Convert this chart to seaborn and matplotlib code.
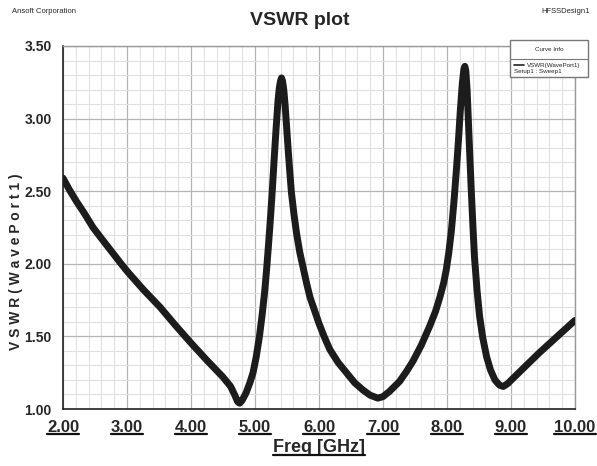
import pandas as pd
import matplotlib.pyplot as plt
import seaborn as sns
from matplotlib.ticker import MultipleLocator
from matplotlib.patches import Rectangle
from matplotlib.lines import Line2D

# values
freq = [2.00, 2.10, 2.21, 2.33, 2.47, 2.60, 2.75, 2.90, 3.00, 3.25, 3.52, 3.75,
        4.00, 4.25, 4.50, 4.62, 4.68, 4.73, 4.76, 4.80, 4.86, 4.92, 4.97, 5.02,
        5.07, 5.11, 5.15, 5.18, 5.21, 5.24, 5.27, 5.30, 5.33, 5.36, 5.38, 5.40,
        5.415, 5.43, 5.45, 5.47, 5.495, 5.52, 5.545, 5.57, 5.61, 5.65, 5.70, 5.76,
        5.81, 5.86, 5.93, 6.00, 6.08, 6.17, 6.30, 6.43, 6.56, 6.69, 6.80, 6.92,
        7.00, 7.10, 7.26, 7.37, 7.47, 7.60, 7.73, 7.82, 7.89, 7.95, 7.99, 8.03,
        8.07, 8.11, 8.15, 8.18, 8.21, 8.24, 8.265, 8.28, 8.295, 8.315, 8.33, 8.355,
        8.38, 8.405, 8.43, 8.47, 8.51, 8.56, 8.62, 8.68, 8.75, 8.82, 8.88, 8.95,
        9.03, 9.20, 9.45, 9.70, 10.00]
vswr = [2.59, 2.51, 2.43, 2.35, 2.25, 2.175, 2.09, 2.005, 1.95, 1.825, 1.70, 1.58,
        1.455, 1.335, 1.22, 1.155, 1.10, 1.05, 1.04, 1.06, 1.11, 1.18, 1.25, 1.36,
        1.50, 1.64, 1.80, 1.95, 2.12, 2.30, 2.50, 2.72, 2.93, 3.12, 3.21, 3.26,
        3.28, 3.26, 3.20, 3.10, 2.94, 2.78, 2.63, 2.49, 2.34, 2.21, 2.08, 1.96,
        1.86, 1.77, 1.68, 1.59, 1.50, 1.41, 1.32, 1.25, 1.18, 1.13, 1.095, 1.075,
        1.085, 1.12, 1.19, 1.26, 1.33, 1.44, 1.57, 1.67, 1.77, 1.87, 1.96, 2.08,
        2.23, 2.43, 2.66, 2.85, 3.06, 3.24, 3.34, 3.36, 3.33, 3.20, 3.04, 2.77,
        2.51, 2.27, 2.05, 1.82, 1.64, 1.49, 1.36, 1.27, 1.20, 1.165, 1.155, 1.175,
        1.21, 1.283, 1.39, 1.49, 1.61]
xticks = [2, 3, 4, 5, 6, 7, 8, 9, 10]
yticks = [1.0, 1.5, 2.0, 2.5, 3.0, 3.5]

df = pd.DataFrame({"Freq": freq, "VSWR": vswr})

sns.set_style("white")
plt.rcParams['font.family'] = ['Liberation Sans', 'DejaVu Sans']

fig = plt.figure(figsize=(5.97, 4.66), dpi=100)
ax = fig.add_axes([0.1055, 0.1223, 0.8575, 0.779])

sns.lineplot(data=df, x="Freq", y="VSWR", ax=ax, color="#1c1c1c", linewidth=5,
             sort=False, solid_capstyle="round", solid_joinstyle="round", zorder=5)

ax.set_xlim(2, 10)
ax.set_ylim(1, 3.5)
ax.set_xticks(xticks)
ax.set_xticklabels(["%.2f" % t for t in xticks], fontsize=12, fontweight="bold")
ax.set_yticks(yticks)
ax.set_yticklabels(["%.2f" % t for t in yticks], fontsize=10, fontweight="bold")
ax.xaxis.set_minor_locator(MultipleLocator(0.2))
ax.yaxis.set_minor_locator(MultipleLocator(0.1))
ax.grid(which="major", color="#b4b4b4", linewidth=0.9)
ax.grid(which="minor", color="#e0e0e0", linewidth=0.8)
ax.tick_params(axis="both", which="major", direction="out", length=6, width=1, color="#333333", pad=2)
ax.tick_params(axis="both", which="minor", direction="out", length=3, width=1, color="#555555")
for s in ["left", "bottom"]:
    ax.spines[s].set_color("#222222")
    ax.spines[s].set_linewidth(1.2)
for s in ["top", "right"]:
    ax.spines[s].set_color("#999999")
    ax.spines[s].set_linewidth(1.0)

ax.set_xlabel("Freq [GHz]", fontsize=13, fontweight="bold", labelpad=3)
ax.set_ylabel("V S W R ( W a v e P o r t 1 )", fontsize=10, fontweight="bold")
ax.yaxis.set_label_coords(-0.079, 0.405)

fig.text(0.5025, 0.957, "VSWR plot", ha="center", va="center", fontsize=14, fontweight="bold")
fig.text(0.02, 0.975, "Ansoft Corporation", ha="left", va="center", fontsize=5.5)
fig.text(0.988, 0.975, "HFSSDesign1", ha="right", va="center", fontsize=5.5)

# curve info box
fig.patches.append(Rectangle((0.854, 0.8348), 0.1307, 0.0794, transform=fig.transFigure,
                             facecolor="white", edgecolor="#777777", linewidth=1.0, zorder=10))
fig.lines.append(Line2D([0.854, 0.9847], [0.8734, 0.8734], transform=fig.transFigure,
                        color="#777777", linewidth=0.8, zorder=11))
fig.lines.append(Line2D([0.861, 0.878], [0.8605, 0.8605], transform=fig.transFigure,
                        color="#222222", linewidth=1.2, zorder=11))
fig.text(0.9196, 0.8948, "Curve Info", ha="center", va="center", fontsize=4.5, zorder=12)
fig.text(0.8827, 0.8605, "VSWR(WavePort1)", ha="left", va="center", fontsize=4.5, zorder=12)
fig.text(0.861, 0.8455, "Setup1 : Sweep1", ha="left", va="center", fontsize=4.5, zorder=12)

# underline x tick labels and x label, as in the HFSS export
fig.canvas.draw()
renderer = fig.canvas.get_renderer()
for t in ax.get_xticklabels() + [ax.xaxis.label]:
    bb = t.get_window_extent(renderer)
    fig.lines.append(Line2D([bb.x0, bb.x1], [bb.y0 + 1, bb.y0 + 1], transform=None,
                            color="#111111", linewidth=1.6))

fig.savefig("out.png", dpi=100)
